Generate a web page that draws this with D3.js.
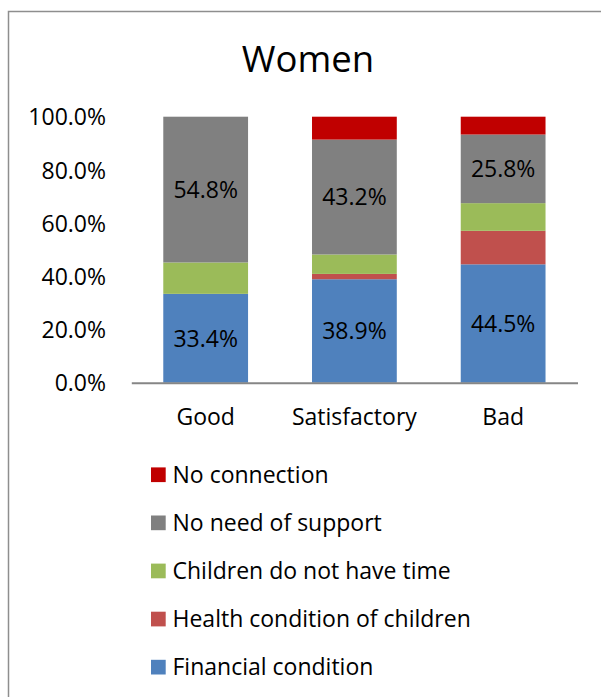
<!DOCTYPE html>
<html>
<head>
<meta charset="utf-8">
<script src="https://cdn.jsdelivr.net/npm/d3@7"></script>
<style>
  html, body { margin: 0; padding: 0; background: #fff; }
  svg { display: block; font-family: "Open Sans", "Noto Sans", sans-serif; }
</style>
</head>
<body>
<svg id="chart" width="601" height="697"></svg>
<script>
const title = "Women";
const categories = ["Good", "Satisfactory", "Bad"];
const seriesNames = ["Financial condition", "Health condition of children", "Children do not have time", "No need of support", "No connection"];
const seriesColors = ["#4F81BD", "#C0504D", "#9BBB59", "#808080", "#C00000"];
const financial = [33.4, 38.9, 44.5];
const health = [0.0, 2.0, 12.6];
const noTime = [11.8, 7.3, 10.4];
const noNeed = [54.8, 43.2, 25.8];
const noConnection = [0.0, 8.6, 6.7];
const labeledSeries = ["Financial condition", "No need of support"];
const yTicks = [0, 20, 40, 60, 80, 100];

const seriesValues = [financial, health, noTime, noNeed, noConnection];
const rows = categories.map((c, i) => {
  const r = { category: c };
  seriesNames.forEach((s, j) => { r[s] = seriesValues[j][i]; });
  return r;
});

const svg = d3.select("#chart");

// outer frame
svg.append("path")
  .attr("d", "M8.5,697 L8.5,11.5 L601,11.5")
  .attr("fill", "none")
  .attr("stroke", "#8e8e8e")
  .attr("stroke-width", 1.5);

svg.append("text")
  .attr("x", 308).attr("y", 71.5)
  .attr("text-anchor", "middle")
  .attr("font-size", 36.5)
  .attr("fill", "#000")
  .text(title);

const x = d3.scaleBand().domain(categories).range([131.3, 577.5]).paddingInner(0.43).paddingOuter(0.215);
const y = d3.scaleLinear().domain([0, 100]).range([382.7, 116.7]);

const stack = d3.stack().keys(seriesNames);
const stacked = stack(rows);

const g = svg.append("g");
stacked.forEach((layer, li) => {
  g.selectAll(null).data(layer).enter().append("rect")
    .attr("x", d => x(d.data.category))
    .attr("width", x.bandwidth())
    .attr("y", d => y(d[1]))
    .attr("height", d => Math.max(0, y(d[0]) - y(d[1])))
    .attr("fill", seriesColors[li]);
});

// data labels
stacked.forEach((layer) => {
  if (!labeledSeries.includes(layer.key)) return;
  g.selectAll(null).data(layer).enter().append("text")
    .attr("x", d => x(d.data.category) + x.bandwidth() / 2)
    .attr("y", d => (y(d[0]) + y(d[1])) / 2)
    .attr("dy", "0.36em")
    .attr("text-anchor", "middle")
    .attr("font-size", 23)
    .attr("fill", "#000")
    .text(d => (d[1] - d[0]).toFixed(1) + "%");
});

// y axis labels
const yAxis = svg.append("g").attr("transform", "translate(106,0)")
  .call(d3.axisLeft(y).tickValues(yTicks).tickSize(0).tickPadding(0).tickFormat(d => d.toFixed(1) + "%"));
yAxis.select(".domain").remove();
yAxis.selectAll("text").attr("font-size", 23).attr("font-family", "Open Sans").attr("fill", "#000").attr("dy", "0.36em");

// x axis
const xAxis = svg.append("g").attr("transform", "translate(0,382.7)")
  .call(d3.axisBottom(x).tickSize(0).tickPadding(0));
xAxis.select(".domain").attr("stroke", "#868686").attr("stroke-width", 2);
xAxis.selectAll("text").attr("font-size", 23).attr("font-family", "Open Sans").attr("fill", "#000").attr("dy", null).attr("y", 42.5);

// legend
const legendOrder = seriesNames.slice().reverse();
const legendColors = seriesColors.slice().reverse();
const leg = svg.append("g");
legendOrder.forEach((name, i) => {
  const cy = 474.7 + i * 48.1;
  leg.append("rect").attr("x", 151).attr("y", cy - 7.3).attr("width", 14.7).attr("height", 14.7).attr("fill", legendColors[i]);
  leg.append("text").attr("x", 172.5).attr("y", cy).attr("dy", "0.36em")
    .attr("font-size", 23).attr("fill", "#000").text(name);
});
</script>
</body>
</html>
